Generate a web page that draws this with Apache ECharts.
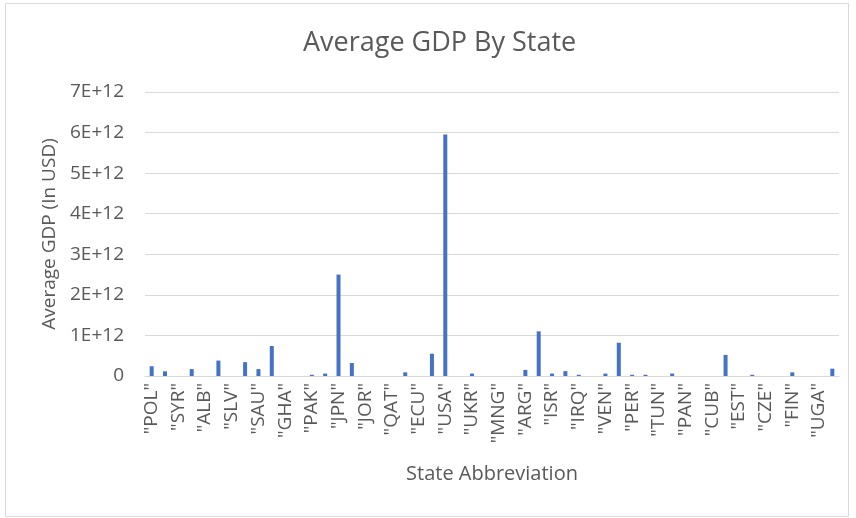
<!DOCTYPE html>
<html>
<head>
<meta charset="utf-8">
<script src="https://cdn.jsdelivr.net/npm/echarts@6/dist/echarts.min.js"></script>
<style>
  html, body { margin: 0; padding: 0; background: #fff; }
  #main { width: 856px; height: 518px; }
</style>
</head>
<body>
<div id="main"></div>
<script>
let myChart = echarts.init(document.getElementById('main'));

// state codes, every other one is labelled on the axis
let states = [
    '"POL"', '"IRN"', '"SYR"', '"ROU"', '"ALB"', '"ZAF"', '"SLV"', '"THA"', '"SAU"', '"IDN"',
    '"GHA"', '"YEM"', '"PAK"', '"BGD"', '"JPN"', '"MYS"', '"JOR"', '"LBN"', '"QAT"', '"KAZ"',
    '"ECU"', '"CHE"', '"USA"', '"BOL"', '"UKR"', '"NPL"', '"MNG"', '"KEN"', '"ARG"', '"KOR"',
    '"ISR"', '"CHL"', '"IRQ"', '"LBY"', '"VEN"', '"MEX"', '"PER"', '"GTM"', '"TUN"', '"MAR"',
    '"PAN"', '"HND"', '"CUB"', '"SWE"', '"EST"', '"LVA"', '"CZE"', '"SVN"', '"FIN"', '"ISL"',
    '"UGA"', '"NZL"'
];

// average GDP in USD
let avgGdp = [
    0.24e12, 0.115e12, null, 0.17e12, null, 0.38e12, null, 0.34e12, 0.17e12, 0.74e12,
    null, null, 0.03e12, 0.06e12, 2.5e12, 0.32e12, null, null, null, 0.09e12,
    null, 0.55e12, 5.95e12, null, 0.06e12, null, null, null, 0.15e12, 1.1e12,
    0.06e12, 0.12e12, 0.03e12, null, 0.06e12, 0.82e12, 0.03e12, 0.03e12, null, 0.06e12,
    null, null, null, 0.52e12, null, 0.03e12, null, null, 0.09e12, null,
    null, 0.18e12
];

let font = '"Open Sans", sans-serif';
let gray = '#595959';

let option = {
    backgroundColor: '#fff',
    textStyle: { fontFamily: font },
    title: {
        text: 'Average GDP By State',
        left: 298,
        top: 25,
        textStyle: { fontFamily: font, fontSize: 27, fontWeight: 'normal', color: gray }
    },
    graphic: [{
        type: 'rect',
        shape: { x: 5.5, y: 3.5, width: 843, height: 513 },
        style: { fill: 'none', stroke: '#d9d9d9', lineWidth: 1 },
        silent: true
    }],
    grid: { left: 145, right: 17, top: 92, bottom: 142 },
    xAxis: {
        type: 'category',
        data: states,
        name: 'State Abbreviation',
        nameLocation: 'middle',
        nameGap: 88,
        nameTextStyle: { fontFamily: font, fontSize: 20, color: gray },
        axisLine: { lineStyle: { color: '#d9d9d9' } },
        axisTick: { show: false },
        axisLabel: { interval: 1, rotate: 90, fontSize: 19, color: gray, fontFamily: font, margin: 7 }
    },
    yAxis: {
        type: 'value',
        min: 0,
        max: 7e12,
        interval: 1e12,
        name: 'Average GDP (In USD)',
        nameLocation: 'middle',
        nameGap: 83,
        nameTextStyle: { fontFamily: font, fontSize: 19, color: gray },
        axisLine: { show: false },
        axisTick: { show: false },
        splitLine: { lineStyle: { color: '#d9d9d9' } },
        axisLabel: {
            fontSize: 19, color: gray, fontFamily: font, margin: 21,
            formatter: v => v === 0 ? '0' : (v / 1e12) + 'E+12'
        }
    },
    series: [{
        type: 'bar',
        data: avgGdp,
        barWidth: 4,
        itemStyle: { color: '#4472c4' }
    }]
};

myChart.setOption(option);
</script>
</body>
</html>
